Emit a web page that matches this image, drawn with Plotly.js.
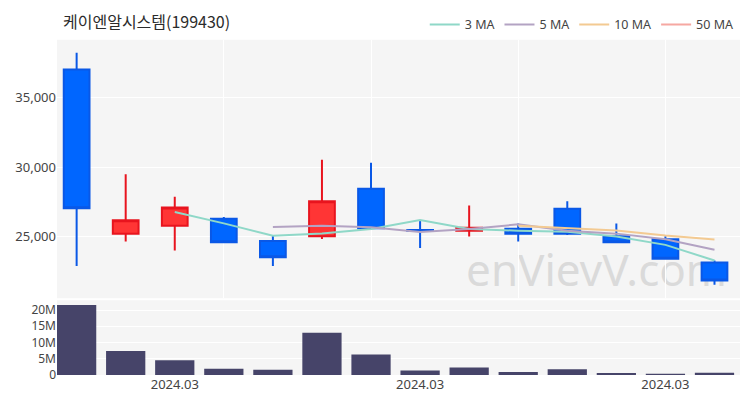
<!DOCTYPE html>
<html>
<head>
<meta charset="utf-8">
<script src="https://cdn.plot.ly/plotly-3.0.1.min.js"></script>
<style>
  html, body { margin: 0; padding: 0; background: #ffffff; }
  #chart { width: 750px; height: 400px; }
</style>
</head>
<body>
<div id="chart"></div>
<script>
// ---- data ----
const titleText = "케이엔알시스템(199430)";
const idx = [0, 1, 2, 3, 4, 5, 6, 7, 8, 9, 10, 11, 12, 13];
const openVals  = [37035, 25191, 25759, 26277, 24667, 25000, 28426, 25450, 25404, 25546, 26986, 25000, 24787, 23106];
const highVals  = [38241, 29489, 27858, 26397, 25050, 30532, 30319, 26156, 27220, 25922, 27532, 25922, 25000, 23248];
const lowVals   = [22851, 24624, 23986, 24504, 22851, 24809, 25550, 24149, 24979, 24624, 25095, 24574, 23319, 21504];
const closeVals = [27035, 26156, 27078, 24574, 23489, 27530, 25589, 25400, 25617, 25191, 25191, 24574, 23390, 21809];
const volumeVals = [21.5e6, 7.4e6, 4.5e6, 1.9e6, 1.6e6, 13.0e6, 6.3e6, 1.4e6, 2.3e6, 0.9e6, 1.8e6, 0.6e6, 0.4e6, 0.7e6];
const ma3  = [null, null, 26756, 25936, 25047, 25198, 25536, 26173, 25535, 25403, 25333, 24985, 24385, 23258];
const ma5  = [null, null, null, null, 25666, 25765, 25652, 25316, 25525, 25865, 25398, 25195, 24793, 24031];
const ma10 = [null, null, null, null, null, null, null, null, null, 25766, 25582, 25423, 25055, 24778];
const ma50 = [null, null, null, null, null, null, null, null, null, null, null, null, null, null];
const maNames = ["3 MA", "5 MA", "10 MA", "50 MA"];
const xTickVals = [2, 7, 12];
const xTickText = ["2024.03", "2024.03", "2024.03"];
const priceTicks = [25000, 30000, 35000];
const volTicks = [0, 5e6, 10e6, 15e6, 20e6];
const volTickText = ["0", "5M", "10M", "15M", "20M"];
const watermark = "enVievV.com";

const FONT = "'Noto Sans CJK KR', 'Noto Sans', sans-serif";
const NUMFONT = "'Noto Sans', 'DejaVu Sans', sans-serif";

const traces = [
  {
    type: "candlestick",
    x: idx, open: openVals, high: highVals, low: lowVals, close: closeVals,
    xaxis: "x", yaxis: "y",
    increasing: { line: { color: "#e8141e", width: 2 }, fillcolor: "#ff3535" },
    decreasing: { line: { color: "#0a58e6", width: 2 }, fillcolor: "#0066ff" },
    showlegend: false, hoverinfo: "skip"
  },
  { type: "scatter", mode: "lines", x: idx, y: ma3, name: maNames[0], line: { color: "#8fd8c8", width: 2 }, xaxis: "x", yaxis: "y" },
  { type: "scatter", mode: "lines", x: idx, y: ma5, name: maNames[1], line: { color: "#b3a3c3", width: 2 }, xaxis: "x", yaxis: "y" },
  { type: "scatter", mode: "lines", x: idx, y: ma10, name: maNames[2], line: { color: "#f3ca92", width: 2 }, xaxis: "x", yaxis: "y" },
  { type: "scatter", mode: "lines", x: idx, y: ma50, name: maNames[3], line: { color: "#f6a8a2", width: 2 }, xaxis: "x", yaxis: "y" },
  {
    type: "bar", x: idx, y: volumeVals, xaxis: "x2", yaxis: "y2",
    marker: { color: "#464469" }, showlegend: false, hoverinfo: "skip"
  }
];

const layout = {
  width: 750, height: 400,
  margin: { l: 57, r: 10, t: 34, b: 25 },
  paper_bgcolor: "#ffffff",
  plot_bgcolor: "#f5f5f5",
  font: { family: NUMFONT, size: 13, color: "#444" },
  title: {
    text: titleText,
    xref: "container", yref: "container",
    x: 0.084, xanchor: "left", y: 0.945, yanchor: "middle",
    font: { family: FONT, size: 16, color: "#2b2b2b" }
  },
  showlegend: true,
  legend: {
    orientation: "h",
    xref: "container", yref: "container",
    x: 0.985, xanchor: "right", y: 0.938, yanchor: "middle",
    font: { family: NUMFONT, size: 12.5, color: "#444" },
    bgcolor: "rgba(0,0,0,0)",
    itemwidth: 30
  },
  boxgap: 0.25,
  boxgroupgap: 0.3,
  bargap: 0.2,
  xaxis: {
    domain: [0, 1], anchor: "y",
    range: [-0.4, 13.52],
    rangeslider: { visible: false },
    tickvals: [3, 6, 9, 12], showticklabels: false,
    showgrid: true, gridcolor: "#ffffff", gridwidth: 1,
    zeroline: false, showline: false, ticks: ""
  },
  yaxis: {
    domain: [0.229, 1], anchor: "x",
    range: [20532, 39184],
    tickvals: priceTicks, tickformat: ",d",
    showgrid: true, gridcolor: "#ffffff", gridwidth: 1,
    zeroline: false, showline: false, ticks: "",
    tickfont: { family: NUMFONT, size: 13, color: "#444" }
  },
  xaxis2: {
    domain: [0, 1], anchor: "y2", matches: "x",
    tickvals: xTickVals, ticktext: xTickText,
    showgrid: false, zeroline: false, showline: false, ticks: "",
    tickfont: { family: NUMFONT, size: 13, color: "#444" }
  },
  yaxis2: {
    domain: [0, 0.223], anchor: "x2",
    range: [0, 23e6],
    tickvals: volTicks, ticktext: volTickText,
    showgrid: true, gridcolor: "#ffffff", gridwidth: 1,
    zeroline: false, showline: false, ticks: "",
    tickfont: { family: NUMFONT, size: 12, color: "#444" }
  },
  shapes: [
    {
      type: "rect", layer: "below",
      xref: "paper", yref: "paper",
      x0: 0.58, x1: 1.0, y0: 0.235, y1: 0.38,
      line: { width: 0 }, fillcolor: "rgba(0,0,0,0)",
      label: {
        text: watermark,
        textposition: "middle center",
        font: { family: "'Noto Sans', sans-serif", size: 44, color: "#dadada" }
      }
    }
  ]
};

Plotly.newPlot("chart", traces, layout, { displayModeBar: false, staticPlot: true });
</script>
</body>
</html>
